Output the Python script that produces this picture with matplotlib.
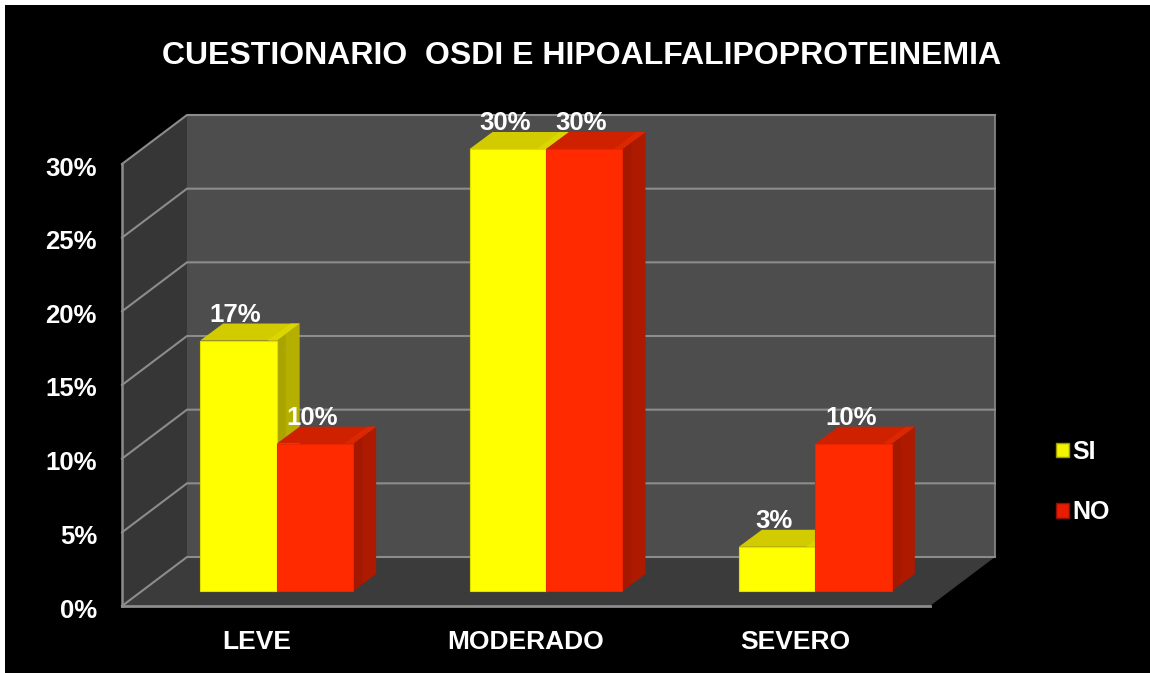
import matplotlib
matplotlib.use("Agg")
from matplotlib import pyplot as plt
from matplotlib.patches import Patch, Polygon, Rectangle
from matplotlib.transforms import ScaledTranslation

categories = ["LEVE", "MODERADO", "SEVERO"]
si_values = [17, 30, 3]
no_values = [10, 30, 10]
y_ticks = [0, 5, 10, 15, 20, 25, 30]
y_labels = ["0%", "5%", "10%", "15%", "20%", "25%", "30%"]
title = "CUESTIONARIO  OSDI E HIPOALFALIPOPROTEINEMIA"

W, H = 1150, 673
# front plane of the fake 3D box, in pixels
LEFT, RIGHT, BOTTOM, TOP = 122, 930, 606, 164
WALL_DX, WALL_DY = 65, 49
BAR_INSET_DX, BAR_INSET_DY = 20, 15
BAR_DX, BAR_DY = 23, 17
BAR_WIDTH = 0.284

plt.rcParams["font.family"] = ["Liberation Sans", "DejaVu Sans"]
plt.rcParams["font.weight"] = "bold"

fig = plt.figure(figsize=(W / 100, H / 100), dpi=100, facecolor="white")
fig.add_artist(Rectangle((5 / W, 0), 1, 1 - 5 / H, transform=fig.transFigure,
                         facecolor="black", edgecolor="none", zorder=-1))
ax = fig.add_axes([LEFT / W, 1 - BOTTOM / H, (RIGHT - LEFT) / W, (BOTTOM - TOP) / H])
ax.patch.set_visible(False)
ax.set_xlim(-0.5, len(categories) - 0.5)
ax.set_ylim(0, 30)
for s in ax.spines.values():
    s.set_visible(False)

# data units per pixel
px_x = len(categories) / (RIGHT - LEFT)
px_y = 30 / (BOTTOM - TOP)


def poly(points, color, z, edge="none"):
    ax.add_patch(Polygon(points, closed=True, facecolor=color, edgecolor=edge,
                         linewidth=0.8, zorder=z, clip_on=False))


x0, x1 = ax.get_xlim()
wx = WALL_DX * px_x
wy = WALL_DY * px_y

# walls and floor
poly([(x0 + wx, wy), (x1 + wx, wy), (x1 + wx, 30 + wy), (x0 + wx, 30 + wy)], "#4d4d4d", 1)
poly([(x0, 0), (x0 + wx, wy), (x0 + wx, 30 + wy), (x0, 30)], "#363636", 1)
poly([(x0, 0), (x1, 0), (x1 + wx, wy), (x0 + wx, wy)], "#3b3b3b", 1)

# gridlines on the walls
line_color = "#8c8c8c"
for v in y_ticks:
    ax.plot([x0, x0 + wx, x1 + wx], [v, v + wy, v + wy], color=line_color, lw=1.5,
            clip_on=False, zorder=2, solid_joinstyle="miter")
ax.plot([x0, x0], [0, 30], color=line_color, lw=1.8, clip_on=False, zorder=2)
ax.plot([x0, x1], [0, 0], color=line_color, lw=2, clip_on=False, zorder=2)
ax.plot([x1 + wx, x1 + wx], [wy, 30 + wy], color=line_color, lw=1.2, clip_on=False, zorder=2)


def draw_bar(left, value, colors, z):
    front, edge, top, top_light, side, side_dark = colors
    # the bar stands a little behind the front edge of the floor, so its
    # front face is lifted by the same inset as its foot
    xa = left + BAR_INSET_DX * px_x
    xb = xa + BAR_WIDTH
    ya = BAR_INSET_DY * px_y
    yb = value + ya
    ddx = BAR_DX * px_x
    ddy = BAR_DY * px_y
    band = 9 * px_x
    poly([(xb, ya), (xb + ddx, ya + ddy), (xb + ddx, yb + ddy), (xb, yb)], side, z)
    # darker strip next to the front face
    poly([(xb, ya), (xb + band, ya + ddy * band / ddx), (xb + band, yb + ddy * band / ddx), (xb, yb)],
         side_dark, z)
    poly([(xa, yb), (xb, yb), (xb + ddx, yb + ddy), (xa + ddx, yb + ddy)], top, z)
    # lighter strip along the right of the top face
    poly([(xb - band, yb), (xb, yb), (xb + ddx, yb + ddy), (xb + ddx - band, yb + ddy)], top_light, z)
    poly([(xa, ya), (xb, ya), (xb, yb), (xa, yb)], front, z + 0.1, edge=edge)
    ax.annotate(f"{value}%", ((xa + xb) / 2, yb), xytext=(-2, 18.5), textcoords="offset points",
                ha="center", va="center", color="white", fontsize=18.5, zorder=20,
                annotation_clip=False)


si_colors = ("#ffff00", "#e0e000", "#d2cb00", "#dcd600", "#b5af00", "#aaa400")
no_colors = ("#ff2a00", "#e82600", "#cf2000", "#dc2800", "#ad1a00", "#a51800")
for i in range(len(categories)):
    draw_bar(i - BAR_WIDTH, si_values[i], si_colors, 3 + i * 2)
    draw_bar(i, no_values[i], no_colors, 4 + i * 2)

ax.set_xticks(range(len(categories)))
ax.set_xticklabels(categories, color="white", fontsize=19)
ax.set_yticks(y_ticks)
ax.set_yticklabels(y_labels, color="white", fontsize=18.5)
ax.tick_params(axis="both", length=0)
ax.tick_params(axis="x", pad=17)
ax.tick_params(axis="y", pad=18)
for lab in ax.get_yticklabels():
    lab.set_transform(lab.get_transform() + ScaledTranslation(0, -2 / 100, fig.dpi_scale_trans))

fig.text(582 / W, 1 - 56 / H, title, color="white", fontsize=23, ha="center", va="center")

handles = [Patch(facecolor="#f4f400", edgecolor="#9a9a00", label="SI"),
           Patch(facecolor="#e81c00", edgecolor="#8f1000", label="NO")]
fig.legend(handles=handles, loc="center left", bbox_to_anchor=(1033 / W, 1 - 482 / H),
           frameon=False, labelcolor="white", fontsize=18, handlelength=0.52, handleheight=0.52,
           handletextpad=0.16, labelspacing=1.45)

fig.savefig("out.png", dpi=100, facecolor=fig.get_facecolor())
